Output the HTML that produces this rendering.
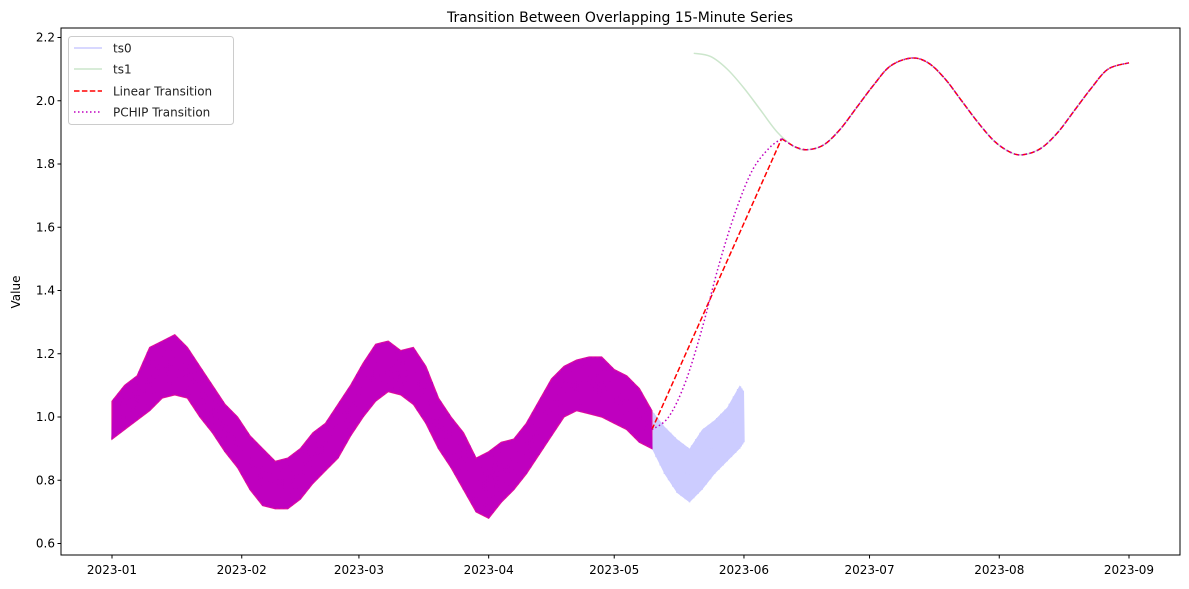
<!DOCTYPE html>
<html><head><meta charset="utf-8"><style>
body{margin:0;background:#fff;}
svg{display:block;font-family:"DejaVu Sans","Liberation Sans",sans-serif;}
</style></head><body>
<svg id="chart" width="1189" height="589" viewBox="0 0 1189 589">
<rect x="0" y="0" width="1189" height="589" fill="#fff"/>
<text x="620" y="22" text-anchor="middle" font-size="14">Transition Between Overlapping 15-Minute Series</text>
<text transform="translate(20,292) rotate(-90)" text-anchor="middle" font-size="12">Value</text>
<g id="plot"></g>
<g id="axes"></g>
<g id="legend">
<rect x="68.5" y="36.5" width="165" height="88" rx="3" fill="#fff" fill-opacity="0.8" stroke="#ccc"/>
<line x1="74" y1="48" x2="102" y2="48" stroke="#ccccff" stroke-width="1.5"/>
<text x="113" y="52.5" font-size="12" fill="#222">ts0</text>
<line x1="74" y1="69" x2="102" y2="69" stroke="#cce6cc" stroke-width="1.5"/>
<text x="113" y="73.5" font-size="12" fill="#222">ts1</text>
<line x1="74" y1="91" x2="102" y2="91" stroke="#ff0000" stroke-width="1.5" stroke-dasharray="5.5,2.4"/>
<text x="113" y="95.5" font-size="12" fill="#222">Linear Transition</text>
<line x1="74" y1="112" x2="102" y2="112" stroke="#bf00bf" stroke-width="1.5" stroke-dasharray="1.5,2.5"/>
<text x="113" y="116.5" font-size="12" fill="#222">PCHIP Transition</text>
</g>
</svg>
<script>
// days since 2023-01-01
const ts0Days=[0,3,6,9,12,15,18,21,24,27,30,33,36,39,42,45,48,51,54,57,60,63,66,69,72,75,78,81,84,87,90,93,96,99,102,105,108,111,114,117,120,123,126,129,132,135,138,141,144,147,150,151];
const ts0Hi=[1.05,1.10,1.13,1.22,1.24,1.26,1.22,1.16,1.10,1.04,1.00,0.94,0.90,0.86,0.87,0.90,0.95,0.98,1.04,1.10,1.17,1.23,1.24,1.21,1.22,1.16,1.06,1.00,0.95,0.87,0.89,0.92,0.93,0.98,1.05,1.12,1.16,1.18,1.19,1.19,1.15,1.13,1.09,1.02,0.97,0.93,0.90,0.96,0.99,1.03,1.10,1.08];
const ts0Lo=[0.93,0.96,0.99,1.02,1.06,1.07,1.06,1.00,0.95,0.89,0.84,0.77,0.72,0.71,0.71,0.74,0.79,0.83,0.87,0.94,1.00,1.05,1.08,1.07,1.04,0.98,0.90,0.84,0.77,0.70,0.68,0.73,0.77,0.82,0.88,0.94,1.00,1.02,1.01,1.00,0.98,0.96,0.92,0.90,0.82,0.76,0.73,0.77,0.82,0.86,0.90,0.92];
const ts1Days=[139,143,147,151,155,159,163,166,170,174,178,182,186,191,195,199,203,207,211,215,218,222,226,230,234,238,243];
const ts1Vals=[2.15,2.14,2.10,2.04,1.97,1.90,1.855,1.845,1.86,1.91,1.98,2.05,2.11,2.135,2.12,2.07,2.00,1.93,1.87,1.835,1.83,1.85,1.90,1.97,2.04,2.10,2.12];
const linDays=[129,160];
const linVals=[0.96,1.88];
const pchipDays=[129,133,137,141,145,149,153,157,160];
const pchipVals=[0.96,1.00,1.11,1.28,1.48,1.65,1.78,1.85,1.88];
const blendDay=129;
const yTicks=[0.6,0.8,1.0,1.2,1.4,1.6,1.8,2.0,2.2];
const xTickDays=[0,31,59,90,120,151,181,212,243];
const xTickLabels=["2023-01","2023-02","2023-03","2023-04","2023-05","2023-06","2023-07","2023-08","2023-09"];

const X0=112,X1=1129,L=61,R=1180,T=28,B=555;
const xs=d=>X0+(X1-X0)*d/243;
const ys=v=>417-(v-1.0)*316.25;
const NS="http://www.w3.org/2000/svg";
const plot=document.getElementById('plot'),axes=document.getElementById('axes');
function mk(tag,attrs,parent){const e=document.createElementNS(NS,tag);for(const k in attrs)e.setAttribute(k,attrs[k]);parent.appendChild(e);return e;}
function bandPts(filter){const a=[],b=[];ts0Days.forEach((d,i)=>{if(filter(d)){a.push(xs(d)+','+ys(ts0Hi[i]));b.unshift(xs(d)+','+ys(ts0Lo[i]));}});return a.concat(b).join(' ');}
function zig(filter){const p=[];ts0Days.forEach((d,i)=>{if(!filter(d))return;const n=ts0Days[i+1]!==undefined&&filter(ts0Days[i+1])?ts0Days[i+1]:d;const steps=6;for(let k=0;k<steps;k++){const t=k/steps;const dd=d+(n-d)*t;const j=Math.min(i+1,ts0Days.length-1);const hi=ts0Hi[i]+(ts0Hi[j]-ts0Hi[i])*t,lo=ts0Lo[i]+(ts0Lo[j]-ts0Lo[i])*t;p.push(xs(dd)+','+ys(k%2?hi:lo));if(n===d)break;}});return p.join(' ');}
let e=mk('polygon',{points:bandPts(d=>d>=blendDay-3),fill:'#ccccff'},plot);


e=mk('polyline',{points:zig(d=>d>=blendDay-3),fill:'none',stroke:'#ccccff','stroke-width':1.5},plot);


function smooth(days,vals){let d='M'+xs(days[0])+','+ys(vals[0]);for(let i=0;i<days.length-1;i++){const p0=i?i-1:i,p3=Math.min(i+2,days.length-1);const x1=xs(days[i]),y1=ys(vals[i]),x2=xs(days[i+1]),y2=ys(vals[i+1]);const c1x=x1+(x2-xs(days[p0]))/6,c1y=y1+(y2-ys(vals[p0]))/6,c2x=x2-(xs(days[p3])-x1)/6,c2y=y2-(ys(vals[p3])-y1)/6;d+=`C${c1x},${c1y} ${c2x},${c2y} ${x2},${y2}`;}return d;}
e=mk('path',{d:smooth(ts1Days,ts1Vals),fill:'none',stroke:'#cce6cc','stroke-width':1.5},plot);


e=mk('polygon',{points:bandPts(d=>d<=blendDay),fill:'#bf00bf',stroke:'#e0109a','stroke-width':1.2},plot);


e=mk('polyline',{points:zig(d=>d<=blendDay),fill:'none',stroke:'#bf00bf','stroke-width':1.5},plot);


e=mk('polyline',{points:linDays.map((d,i)=>xs(d)+','+ys(linVals[i])).join(' '),fill:'none',stroke:'#ff0000','stroke-width':1.5,'stroke-dasharray':'5.5,2.4'},plot);


const afterD=ts1Days.filter(d=>d>=163),afterV=ts1Vals.filter((v,i)=>ts1Days[i]>=163);
const afterPath=smooth(afterD,afterV).replace(/^M[^C]*/,'M'+xs(160)+','+ys(1.88)+'L'+xs(163)+','+ys(1.855));
e=mk('path',{d:afterPath,fill:'none',stroke:'#ff0000','stroke-width':1.5,'stroke-dasharray':'5.5,2.4'},plot);


e=mk('path',{d:smooth(pchipDays,pchipVals),fill:'none',stroke:'#bf00bf','stroke-width':1.5,'stroke-dasharray':'1.5,2.5'},plot);


e=mk('path',{d:afterPath,fill:'none',stroke:'#bf00bf','stroke-width':1.5,'stroke-dasharray':'1.5,2.5'},plot);


e=mk('rect',{x:L,y:T,width:R-L,height:B-T,fill:'none',stroke:'#000','stroke-width':1},axes);


yTicks.forEach(v=>{const y=ys(v);mk('line',{x1:L-3.5,x2:L,y1:y,y2:y,stroke:'#000'},axes);
const t=mk('text',{x:L-6,y:y+4,'text-anchor':'end','font-size':12},axes);t.textContent=v.toFixed(1);

});
xTickDays.forEach((d,i)=>{const x=xs(d);mk('line',{x1:x,x2:x,y1:B,y2:B+3.5,stroke:'#000'},axes);
const t=mk('text',{x:x,y:B+19,'text-anchor':'middle','font-size':12},axes);t.textContent=xTickLabels[i];

});
</script>
</body></html>
